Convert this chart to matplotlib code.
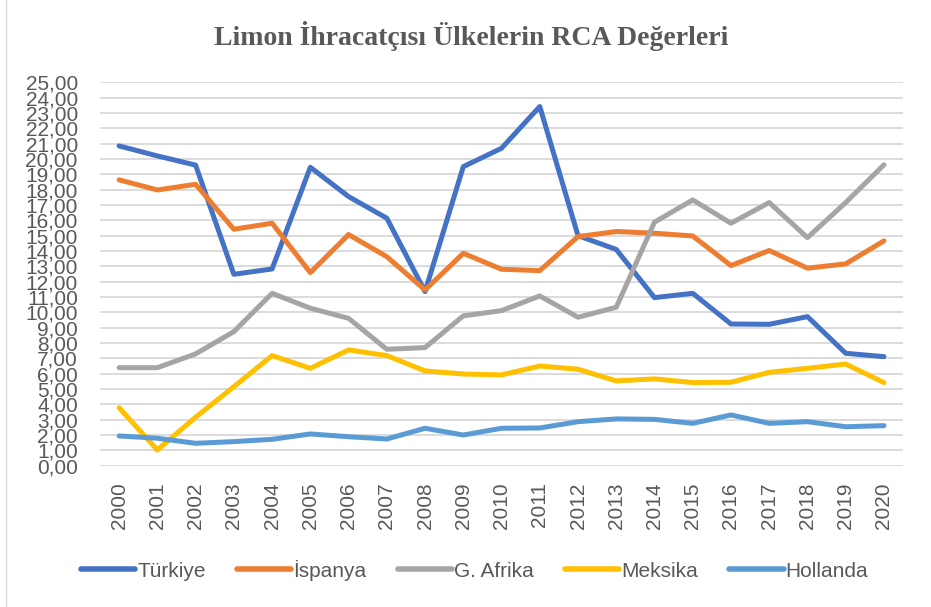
import matplotlib
matplotlib.use("Agg")
import matplotlib.pyplot as plt
from matplotlib.lines import Line2D

years = [str(y) for y in range(2000, 2021)]

turkiye = [20.85, 20.2, 19.6, 12.48, 12.83, 19.46, 17.55, 16.14, 11.35, 19.5, 20.7,
           23.42, 15.0, 14.1, 10.96, 11.24, 9.24, 9.22, 9.72, 7.33, 7.11]
ispanya = [18.64, 17.98, 18.35, 15.42, 15.81, 12.59, 15.07, 13.63, 11.46, 13.85, 12.81,
           12.72, 14.94, 15.27, 15.16, 14.98, 13.05, 14.03, 12.88, 13.16, 14.66]
g_afrika = [6.39, 6.39, 7.29, 8.74, 11.24, 10.27, 9.61, 7.59, 7.7, 9.77, 10.11,
            11.07, 9.68, 10.33, 15.88, 17.33, 15.81, 17.16, 14.87, 17.16, 19.62]
meksika = [3.78, 1.02, 3.16, 5.15, 7.18, 6.35, 7.55, 7.18, 6.18, 5.98, 5.92,
           6.5, 6.29, 5.53, 5.66, 5.42, 5.44, 6.09, 6.35, 6.63, 5.42]
hollanda = [1.94, 1.79, 1.46, 1.57, 1.72, 2.07, 1.89, 1.74, 2.44, 2.0, 2.44,
            2.46, 2.87, 3.05, 3.02, 2.76, 3.31, 2.76, 2.87, 2.54, 2.61]

series = [
    ("Türkiye", turkiye, "#4472C4"),
    ("İspanya", ispanya, "#ED7D31"),
    ("G. Afrika", g_afrika, "#A5A5A5"),
    ("Meksika", meksika, "#FFC000"),
    ("Hollanda", hollanda, "#5B9BD5"),
]

yticks = list(range(0, 26))
ytick_labels = [f"{v},00" for v in yticks]

label_font = ["Liberation Sans", "DejaVu Sans"]
grey = "#595959"

fig = plt.figure(figsize=(9.31, 6.07), dpi=100)
ax = fig.add_axes([0.1074, 0.2328, 0.8626, 0.6316])

x = list(range(len(years)))
for name, vals, col in series:
    ax.plot(x, vals, color=col, lw=3.6, label=name, solid_capstyle="round",
            solid_joinstyle="round")

ax.set_xlim(-0.5, len(years) - 0.5)
ax.set_ylim(0, 25)
ax.set_yticks(yticks)
ax.set_yticklabels(ytick_labels, family=label_font, fontsize=15, color=grey)
ax.set_xticks(x)
ax.set_xticklabels(years, rotation=90, family=label_font, fontsize=15, color=grey)
ax.tick_params(length=0, pad=16)
ax.tick_params(axis="x", pad=12)
ax.grid(axis="y", color="#D9D9D9", lw=1.3)
ax.set_axisbelow(True)
for s in ax.spines.values():
    s.set_visible(False)

fig.suptitle("Limon İhracatçısı Ülkelerin RCA Değerleri", x=0.506, y=0.965,
             family=["Liberation Serif", "DejaVu Serif"], fontweight="bold",
             fontsize=20, color=grey)

leg = fig.legend(loc="center", bbox_to_anchor=(0.51, 0.061), ncol=5, frameon=False,
                 prop={"family": label_font, "size": 15}, handlelength=2.6,
                 handletextpad=0.1, columnspacing=1.5, labelcolor=grey)
for h in leg.get_lines():
    h.set_linewidth(4)

fig.add_artist(Line2D([5.5 / 931, 5.5 / 931], [0, 1], transform=fig.transFigure,
                      color="#D9D9D9", lw=1))

fig.savefig("out.png", dpi=100)
